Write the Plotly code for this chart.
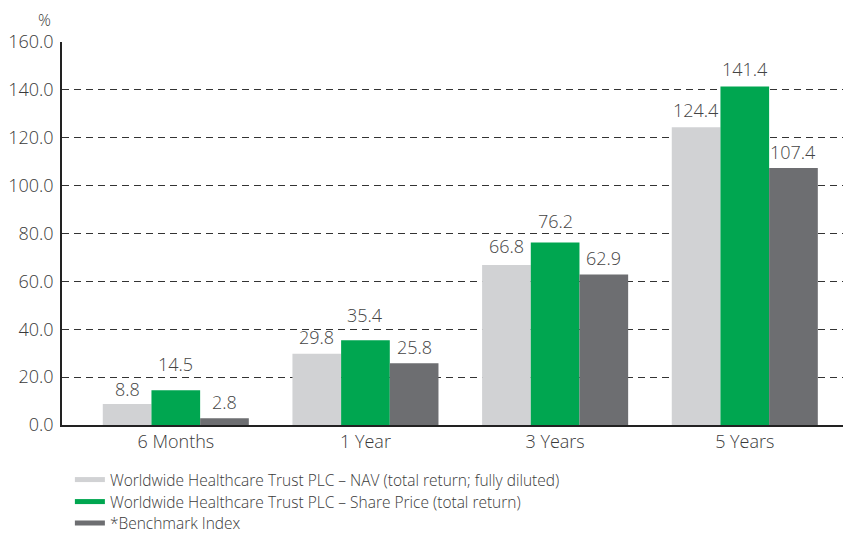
import plotly.graph_objects as go

categories = ["6 Months", "1 Year", "3 Years", "5 Years"]
nav = [8.8, 29.8, 66.8, 124.4]
share_price = [14.5, 35.4, 76.2, 141.4]
benchmark = [2.8, 25.8, 62.9, 107.4]
series_names = [
    "Worldwide Healthcare Trust PLC – NAV (total return; fully diluted)",
    "Worldwide Healthcare Trust PLC – Share Price (total return)",
    "*Benchmark Index",
]
colors = ["#D1D2D4", "#00A650", "#6D6E71"]
tick_vals = [0, 20, 40, 60, 80, 100, 120, 140, 160]

# label lift above bar top (px), style only: some labels are raised off gridlines
label_lift = [
    [1, 3, 5, 3],
    [12, 11, 8, 4],
    [2, 2, 2, 2],
]

FONT = "Open Sans"
TXT = "#3a3a3a"
W8 = 300
BARGAP = 0.23
X_RANGE = [-0.60, 3.56]
PLOT_W = 789

legend_ids = ["legend", "legend2", "legend3"]
series_vals = [nav, share_price, benchmark]

fig = go.Figure()
for name, vals, col in zip(series_names, series_vals, colors):
    fig.add_trace(go.Bar(
        x=categories, y=vals, name=name, marker=dict(color=col, line=dict(width=0)),
        showlegend=False,
    ))
for name, col, lid in zip(series_names, colors, legend_ids):
    fig.add_trace(go.Scatter(
        x=[None], y=[None], mode="lines", name=name, legend=lid,
        line=dict(color=col, width=5), showlegend=True,
    ))

# page has an 8px body margin, so the figure is sized/offset to compensate
fig.update_layout(
    width=843, height=526,
    margin=dict(l=54, r=0, t=34, b=109, autoexpand=False),
    paper_bgcolor="white", plot_bgcolor="white",
    barmode="group", bargap=BARGAP, bargroupgap=0,
    font=dict(family=FONT, size=18, color=TXT, weight=W8),
    showlegend=True,
    xaxis=dict(
        range=X_RANGE,
        showline=True, linecolor="#222222", linewidth=1.5,
        ticks="", showgrid=False,
        tickfont=dict(family=FONT, size=18, color=TXT, weight=W8),
    ),
    yaxis=dict(
        range=[0, 160], tickvals=tick_vals,
        ticktext=[f"{v:.1f}" for v in tick_vals],
        showline=True, linecolor="#222222", linewidth=1.5,
        showgrid=True, gridcolor="#333333", gridwidth=1, griddash="7px,5px",
        zeroline=False, ticks="", ticklabelstandoff=3,
        tickfont=dict(family=FONT, size=18, color=TXT, weight=W8),
    ),
)

# value labels above each bar
px_per_cat = PLOT_W / (X_RANGE[1] - X_RANGE[0])
bar_px = px_per_cat * (1 - BARGAP) / len(series_vals)
for i, vals in enumerate(series_vals):
    for j, (cat, v) in enumerate(zip(categories, vals)):
        fig.add_annotation(
            x=cat, y=v, xref="x", yref="y", text=f"{v:.1f}", showarrow=False,
            xshift=(i - 1) * bar_px, yshift=label_lift[i][j], yanchor="bottom",
            font=dict(family=FONT, size=18, color="#444444", weight=W8),
        )

row_centers = [480, 502, 523.5]  # page pixel centres of legend rows
for lid, yc in zip(legend_ids, row_centers):
    fig.update_layout({lid: dict(
        x=0.01, y=(425 - yc) / 383, xanchor="left", yanchor="middle",
        orientation="v", font=dict(family=FONT, size=15.5, color=TXT, weight=W8),
        itemwidth=30, bgcolor="rgba(0,0,0,0)",
    )})

fig.add_annotation(text="%", xref="paper", yref="paper",
                   x=(44 - 62) / 789, y=1 + 34 / 383,
                   xanchor="center", yanchor="top", showarrow=False, borderpad=0,
                   font=dict(family=FONT, size=16, color=TXT, weight=W8))

fig.write_html("out.html")
